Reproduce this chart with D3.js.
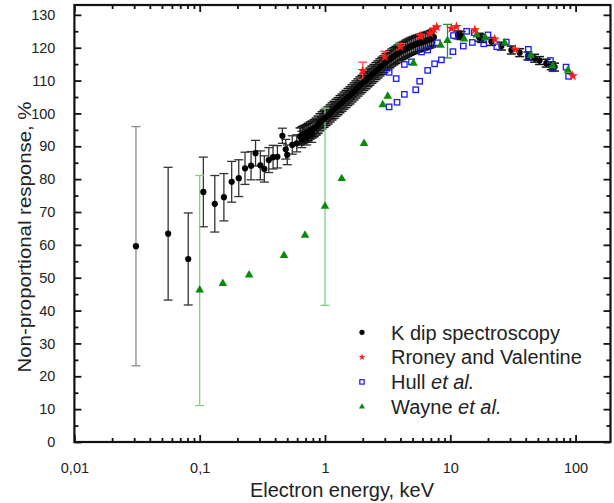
<!DOCTYPE html>
<head>
<meta charset="utf-8">
<style>
  body { margin: 0; background: #fff; }
  text { font-family: "Liberation Sans", Arial, sans-serif; fill: #222; }
</style>
</head>
<body>
<svg width="614" height="503"></svg>
<script src="https://d3js.org/d3.v7.min.js"></script>
<script>

// K dip spectroscopy, sparse low-energy points: [energy keV, response %, error]
var kdipSparse = [
  [0.031, 59.6, 36.4], [0.056, 63.4, 20.2], [0.081, 55.7, 14.0], [0.107, 76.1, 10.6],
  [0.132, 72.5, 8.6], [0.156, 74.5, 7.2], [0.18, 79.2, 6.2], [0.205, 80.3, 5.6],
  [0.23, 83.3, 4.9], [0.257, 84.1, 4.3], [0.279, 87.9, 3.9], [0.305, 84.2, 4.4],
  [0.328, 83.1, 4.0], [0.356, 85.8, 3.8], [0.385, 86.7, 3.6], [0.417, 86.8, 3.4],
  [0.457, 93.2, 2.3], [0.486, 89.1, 3.0], [0.5, 87.4, 3.0], [0.548, 90.4, 2.8],
  [0.595, 90.9, 2.6], [0.652, 92.1, 2.5], [0.715, 92.8, 2.4], [0.783, 93.5, 2.3],
  [0.859, 96.0, 2.2]
];

// K dip spectroscopy, dense run below the peak
var kdipE = [0.633, 0.657, 0.681, 0.707, 0.733, 0.761, 0.789, 0.819, 0.849, 0.881,
  0.913, 0.948, 0.983, 1.02, 1.058, 1.098, 1.138, 1.181, 1.225, 1.271,
  1.318, 1.368, 1.418, 1.472, 1.526, 1.584, 1.642, 1.705, 1.767, 1.834,
  1.902, 1.974, 2.046, 2.124, 2.202, 2.286, 2.37, 2.46, 2.55, 2.647,
  2.744, 2.848, 2.953, 3.065, 3.178, 3.298, 3.42, 3.549, 3.68, 3.82,
  3.96, 4.11, 4.261, 4.423, 4.586, 4.76, 4.935, 5.122, 5.31, 5.512,
  5.714, 5.931, 6.149, 6.383, 6.617, 6.868, 7.12, 7.4];
var kdipV = [93.0, 93.4, 93.7, 94.0, 94.4, 94.8, 95.1, 95.5, 96.0, 96.6,
  97.3, 97.9, 98.4, 98.9, 99.4, 100.0, 100.6, 101.1, 101.7, 102.2,
  102.8, 103.3, 103.9, 104.4, 105.0, 105.5, 106.1, 106.7, 107.3, 107.9,
  108.5, 109.0, 109.6, 110.1, 110.7, 111.2, 111.8, 112.3, 112.9, 113.4,
  114.0, 114.5, 115.0, 115.6, 116.1, 116.5, 117.0, 117.4, 117.8, 118.2,
  118.7, 119.0, 119.3, 119.7, 120.0, 120.3, 120.6, 120.8, 121.1, 121.3,
  121.5, 121.7, 121.9, 122.1, 122.3, 122.5, 122.8, 123.2];

// K dip spectroscopy, above the peak
var kdipHighE = [11.5, 12.2, 17.0, 17.8, 21.3, 25.6, 30.7, 35.8, 41.7, 47.1, 51.6, 58.4, 64, 68];
var kdipHighV = [123.9, 123.7, 123.2, 122.8, 121.9, 120.5, 119.3, 118.5, 117.5, 116.8, 116.1, 115.3, 114.5, 114.1];

// Rroney and Valentine: [energy, response, error]
var rroney = [
  [2.0, 113.0, 2.6], [3.0, 117.2, 1.7], [4.0, 120.3, 1.0], [5.8, 123.5, 0.6],
  [6.9, 124.4, 0], [7.4, 125.6, 0], [7.8, 126.3, 0], [10.2, 125.9, 0],
  [11.2, 126.4, 0], [15.7, 125.4, 0], [22.6, 122.6, 0], [33, 119.5, 0], [95, 111.4, 0]
];

// Hull et al.
var hullE = [3.25, 3.76, 4.3, 5.3, 5.7, 6.6, 7.5, 8.5, 10.5, 12.7, 15.0, 18.5, 23.5, 42, 65, 88,
  3.25, 3.7, 4.3, 4.9, 5.9, 6.6, 7.9, 10.6, 13.5, 15.5, 20, 28, 42, 63, 84];
var hullV = [102.0, 103.4, 105.8, 107.2, 109.8, 113.1, 115.1, 116.3, 118.8, 120.5, 121.6, 121.2, 120.3, 117.0, 113.6, 111.3,
  112.5, 110.6, 114.9, 115.7, 118.7, 119.3, 121.5, 123.7, 125.0, 124.6, 123.9, 121.7, 119.5, 116.1, 114.1];

// Wayne et al.: [energy, response, error]
var wayne = [
  [0.1, 46.1, 35], [0.153, 48.1, 0], [0.248, 50.7, 0], [0.471, 56.6, 0], [0.693, 62.8, 0],
  [1.0, 71.6, 30], [1.36, 80.0, 0], [2.05, 90.7, 0], [2.89, 102.5, 0], [3.17, 105.1, 0],
  [5.09, 115.1, 0], [8.37, 120.6, 0], [9.5, 122.0, 5.1], [12.9, 122.5, 0], [16.3, 123.7, 0],
  [19, 122.9, 0], [27.2, 121.3, 0], [43.9, 117.5, 0], [65.8, 114.2, 0], [87, 113.0, 0]
];

var xMajor = [0.01, 0.1, 1, 10, 100];
var xLabels = ["0,01", "0,1", "1", "10", "100"];
var legendNames = ["K dip spectroscopy", "Rroney and Valentine", "Hull", "Wayne"];

var svg = d3.select("svg");
var plotL = 74.4, plotR = 610.5, plotT = 5, plotB = 442;

var x = d3.scaleLog().domain([0.01, 190]).range([plotL, plotR]);
var y = d3.scaleLinear().domain([0, 133]).range([plotB, plotT]);

// minor ticks 2..9 of each decade
var xMinor = [];
[0.01, 0.1, 1, 10, 100].forEach(function(d) {
  for (var k = 2; k <= 9; k++) if (d * k <= 190) xMinor.push(d * k);
});
var yMajor = d3.range(0, 131, 10);
var yMinor = d3.range(5, 131, 10);

function styleAxis(g) {
  g.select(".domain").remove();
  g.selectAll("line").attr("stroke", "#111").attr("stroke-width", 1.8);
  g.selectAll("text").style("font-size", "14.5px").attr("fill", "#222");
}

svg.append("g").attr("transform", "translate(0," + plotB + ")")
  .call(d3.axisBottom(x).tickValues(xMajor).tickSizeInner(-7).tickSizeOuter(0).tickPadding(21)
    .tickFormat(function(d, i) { return xLabels[i]; }))
  .call(styleAxis);
svg.append("g").attr("transform", "translate(0," + plotB + ")")
  .call(d3.axisBottom(x).tickValues(xMinor).tickSizeInner(-4).tickSizeOuter(0).tickFormat(""))
  .call(styleAxis);
svg.append("g").attr("transform", "translate(0," + plotT + ")")
  .call(d3.axisTop(x).tickValues(xMajor).tickSizeInner(-7).tickSizeOuter(0).tickFormat(""))
  .call(styleAxis);
svg.append("g").attr("transform", "translate(0," + plotT + ")")
  .call(d3.axisTop(x).tickValues(xMinor).tickSizeInner(-4).tickSizeOuter(0).tickFormat(""))
  .call(styleAxis);

svg.append("g").attr("transform", "translate(" + plotL + ",0)")
  .call(d3.axisLeft(y).tickValues(yMajor).tickSizeInner(-7).tickSizeOuter(0).tickPadding(19))
  .call(styleAxis);
svg.append("g").attr("transform", "translate(" + plotL + ",0)")
  .call(d3.axisLeft(y).tickValues(yMinor).tickSizeInner(-4).tickSizeOuter(0).tickFormat(""))
  .call(styleAxis);
svg.append("g").attr("transform", "translate(" + plotR + ",0)")
  .call(d3.axisRight(y).tickValues(yMajor).tickSizeInner(-7).tickSizeOuter(0).tickFormat(""))
  .call(styleAxis);
svg.append("g").attr("transform", "translate(" + plotR + ",0)")
  .call(d3.axisRight(y).tickValues(yMinor).tickSizeInner(-4).tickSizeOuter(0).tickFormat(""))
  .call(styleAxis);

svg.append("rect")
  .attr("x", plotL).attr("y", plotT)
  .attr("width", plotR - plotL).attr("height", plotB - plotT)
  .attr("fill", "none").attr("stroke", "#111").attr("stroke-width", 2.2);

// axis titles
svg.append("text")
  .attr("x", 342).attr("y", 497)
  .attr("text-anchor", "middle")
  .style("font-size", "20px")
  .text("Electron energy, keV");
svg.append("text")
  .attr("transform", "translate(31,237) rotate(-90)")
  .attr("text-anchor", "middle")
  .attr("textLength", 271).attr("lengthAdjust", "spacingAndGlyphs")
  .style("font-size", "19px")
  .text("Non-proportional response, %");

var plot = svg.append("g");

function errorBars(data, color, width, cap) {
  var d = data.filter(function(p) { return p[2] > 0; });
  var g = plot.append("g").attr("stroke", color).attr("stroke-width", width).attr("fill", "none");
  g.selectAll(".v").data(d).enter().append("line")
    .attr("x1", function(p) { return x(p[0]); }).attr("x2", function(p) { return x(p[0]); })
    .attr("y1", function(p) { return y(p[1] - p[2]); }).attr("y2", function(p) { return y(p[1] + p[2]); });
  [-1, 1].forEach(function(s) {
    g.selectAll(".c" + s).data(d).enter().append("line")
      .attr("x1", function(p) { return x(p[0]) - cap; }).attr("x2", function(p) { return x(p[0]) + cap; })
      .attr("y1", function(p) { return y(p[1] + s * p[2]); }).attr("y2", function(p) { return y(p[1] + s * p[2]); });
  });
}

// black points
var kdipDense = kdipE.map(function(e, i) { return [e, kdipV[i], 2.6]; });
var kdipHigh = kdipHighE.map(function(e, i) { return [e, kdipHighV[i], 1.2]; });
var kdipAll = kdipSparse.concat(kdipDense, kdipHigh);

errorBars([kdipSparse[0]], "#8a8a8a", 1.3, 4.5);
errorBars(kdipSparse.slice(1), "#333", 1.3, 4.5);
errorBars(kdipDense.concat(kdipHigh), "#151515", 1.5, 4.5);

// Wayne error bars
errorBars(wayne.filter(function(p) { return p[0] < 5; }), "#7ccf7c", 1.3, 4.5);
errorBars(wayne.filter(function(p) { return p[0] > 5; }), "#2f8f2f", 1.3, 4.5);
errorBars(rroney, "#ff4a4a", 1.3, 4.5);

plot.append("g").selectAll("circle").data(kdipAll).enter().append("circle")
  .attr("cx", function(p) { return x(p[0]); })
  .attr("cy", function(p) { return y(p[1]); })
  .attr("r", 3.1).attr("fill", "#000");

var hull = hullE.map(function(e, i) { return [e, hullV[i]]; });
plot.append("g").selectAll("rect").data(hull).enter().append("rect")
  .attr("x", function(p) { return x(p[0]) - 2.7; })
  .attr("y", function(p) { return y(p[1]) - 2.7; })
  .attr("width", 5.4).attr("height", 5.4)
  .attr("fill", "none").attr("stroke", "#1a1aff").attr("stroke-width", 1.3);

var tri = d3.symbol().type(d3.symbolTriangle).size(32);
plot.append("g").selectAll("path").data(wayne).enter().append("path")
  .attr("transform", function(p) { return "translate(" + x(p[0]) + "," + (y(p[1]) - 0.5) + ")"; })
  .attr("d", tri).attr("fill", "#0a8a0a");

var star = d3.symbol().type(d3.symbolStar).size(34);
plot.append("g").selectAll("path").data(rroney).enter().append("path")
  .attr("transform", function(p) { return "translate(" + x(p[0]) + "," + y(p[1]) + ")"; })
  .attr("d", star).attr("fill", "#ff1a1a");

// legend
var legend = svg.append("g");
var rows = [0, 1, 2, 3];
rows.forEach(function(i) {
  var cy = 332.3 + i * 24.8, mx = 362;
  if (i === 0) legend.append("circle").attr("cx", mx).attr("cy", cy).attr("r", 2.6).attr("fill", "#000");
  if (i === 1) legend.append("path").attr("transform", "translate(" + mx + "," + cy + ")")
    .attr("d", d3.symbol().type(d3.symbolStar).size(14)).attr("fill", "#ff1a1a");
  if (i === 2) legend.append("rect").attr("x", mx - 2.2).attr("y", cy - 2.2).attr("width", 4.4).attr("height", 4.4)
    .attr("fill", "none").attr("stroke", "#1a1aff").attr("stroke-width", 1.2);
  if (i === 3) legend.append("path").attr("transform", "translate(" + mx + "," + cy + ")")
    .attr("d", d3.symbol().type(d3.symbolTriangle).size(16)).attr("fill", "#0a8a0a");
  var t = legend.append("text").attr("x", 391).attr("y", cy + 7.2).style("font-size", "20px");
  t.append("tspan").text(legendNames[i]);
  if (i >= 2) t.append("tspan").style("font-style", "italic").text(" et al.");
});

</script>
</body>
